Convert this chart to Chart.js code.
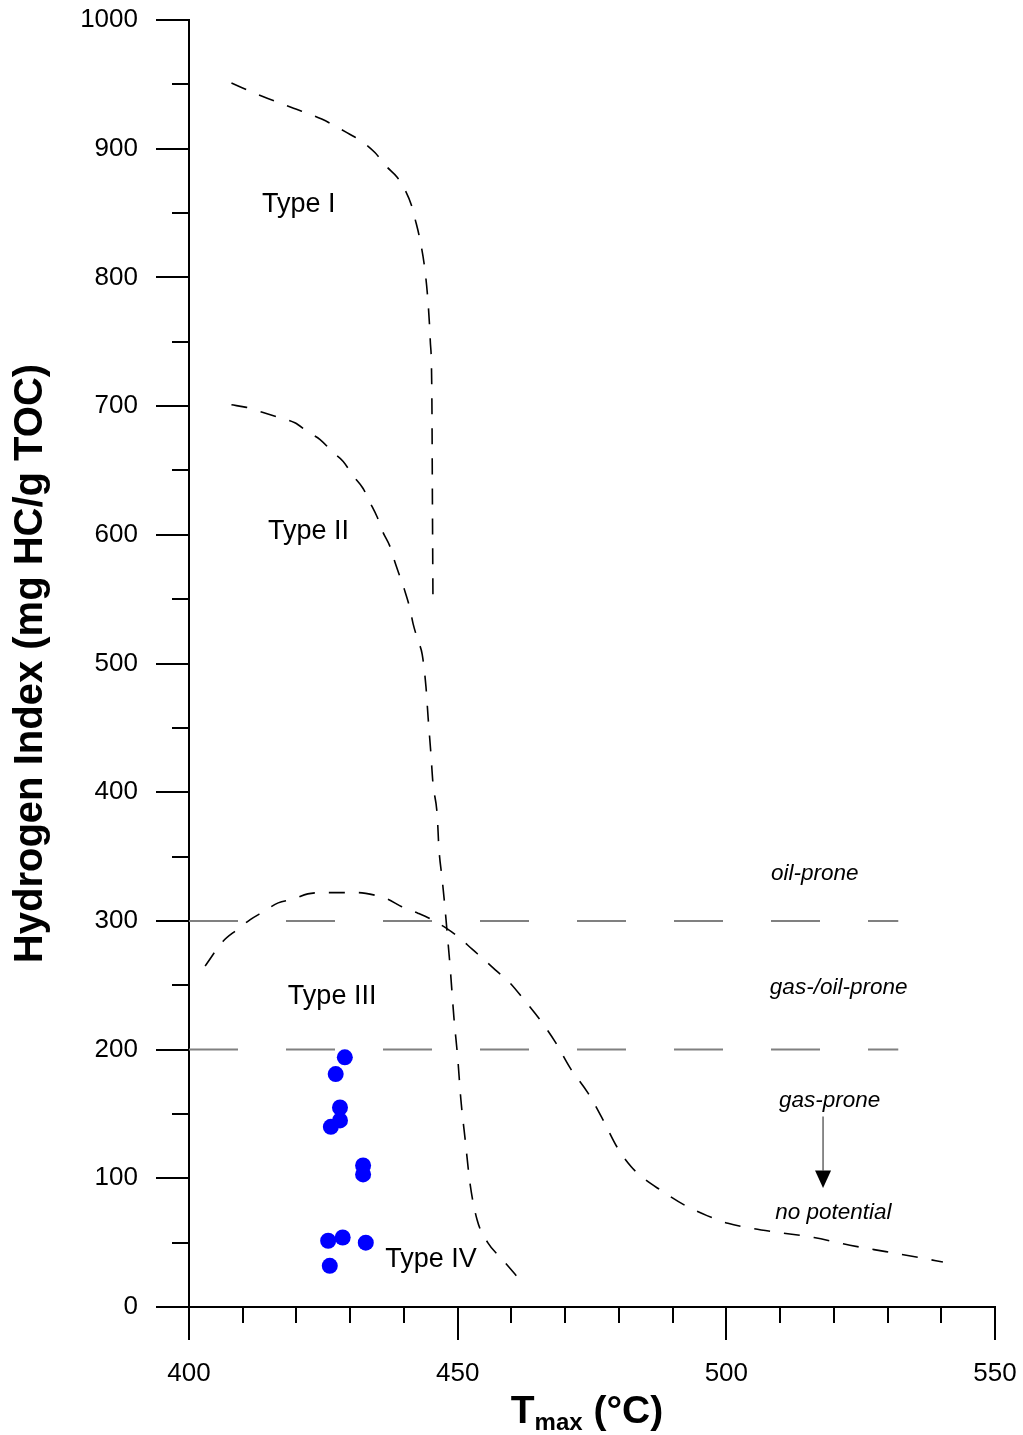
<!DOCTYPE html>
<html>
<head>
<meta charset="utf-8">
<script src="https://cdn.jsdelivr.net/npm/chart.js@4/dist/chart.umd.min.js"></script>
<style>
  html, body { margin: 0; padding: 0; background: #fff; }
  #wrap { width: 1023px; height: 1435px; position: relative; }
</style>
</head>
<body>
<div id="wrap"><canvas id="hiChart"></canvas></div>
<script>
// kerogen type boundaries (Tmax in °C, HI in mg HC/g TOC)
const typeI_T = [407.9, 413.5, 419.1, 424.7, 430.0, 432.4, 434.6, 436.8, 438.7, 440.2, 441.4, 442.1, 443.0, 443.9, 444.5, 444.9, 445.2, 445.3, 445.4];
const typeI_HI = [951, 941, 932, 923, 911, 905, 897, 886, 878, 868, 856, 845, 829, 806, 780, 751, 707, 627, 552];

const typeII_T = [407.9, 410.7, 413.8, 416.9, 419.7, 422.1, 424.4, 426.8, 428.7, 430.5, 432.4, 433.7, 435.0, 436.1, 437.4, 438.3, 439.3, 440.2, 441.1, 441.7, 442.6, 443.4, 444.1, 444.5, 445.0, 445.4, 446.2, 446.5, 447.1, 447.6, 448.0, 448.6, 449.3, 450.0, 450.6, 451.4, 452.3, 453.6, 455.6, 458.3, 461.8];
const typeII_HI = [701, 699, 695, 691, 687, 680, 674, 664, 657, 646, 636, 625, 614, 602, 591, 579, 567, 556, 543, 531, 518, 507, 482, 458, 431, 407, 382, 357, 333, 312, 293, 264, 225, 194, 161, 130, 96, 68, 50, 37, 20];

const typeIII_T = [403.0, 406.3, 408.9, 411.4, 413.8, 416.6, 419.4, 422.1, 424.9, 428.1, 431.3, 434.6, 436.9, 439.6, 442.6, 445.2, 448.0, 450.3, 452.7, 454.9, 457.0, 459.7, 462.3, 465.7, 468.3, 470.9, 474.3, 477.1, 479.7, 482.3, 484.3, 487.7, 492.3, 496.4, 500.3, 505.0, 509.6, 516.3, 523.0, 529.7, 536.4, 540.3];
const typeIII_HI = [265, 284, 293, 301, 307, 314, 317, 321, 322, 322, 322, 320, 317, 311, 306, 301, 294, 287, 278, 270, 262, 252, 239, 221, 205, 186, 166, 145, 124, 109, 101, 91, 79, 71, 65, 61, 58, 54, 48, 43, 38, 35];

// samples
const sampleTmax = [429.0, 427.3, 428.1, 428.1, 426.4, 432.4, 432.4, 425.9, 428.6, 432.9, 426.2];
const sampleHI = [194, 181, 155, 145, 140, 110, 103, 51.5, 54, 50, 32];

// oil-prone / gas-prone limits
const limitHI = [300, 200];
const limitT = [400, 532];

// axes
const xRange = [400, 550];
const yRange = [0, 1000];
const xMajor = [400, 450, 500, 550];
const yMajor = [0, 100, 200, 300, 400, 500, 600, 700, 800, 900, 1000];

const FONT = "'Liberation Sans', Arial, Helvetica, sans-serif";

function pts(xs, ys) {
  return xs.map((x, i) => ({ x: x, y: ys[i] }));
}

function curve(xs, ys) {
  return {
    data: pts(xs, ys),
    showLine: true,
    borderColor: '#000',
    borderWidth: 1.6,
    borderDash: [16, 14],
    pointRadius: 0,
    cubicInterpolationMode: 'monotone',
    fill: false
  };
}

const limitSets = limitHI.map(h => ({
  data: pts(limitT, [h, h]),
  showLine: true,
  borderColor: '#808080',
  borderWidth: 2,
  borderDash: [49, 48],
  pointRadius: 0,
  fill: false
}));

// text on the plot, placed in data units
const notes = [
  { text: 'Type I', x: 413.6, y: 856.5, italic: false },
  { text: 'Type II', x: 414.7, y: 602.5, italic: false },
  { text: 'Type III', x: 418.4, y: 241.5, italic: false },
  { text: 'Type IV', x: 436.5, y: 36.5, italic: false },
  { text: 'oil-prone', x: 508.3, y: 337, italic: true },
  { text: 'gas-/oil-prone', x: 508.1, y: 248, italic: true },
  { text: 'gas-prone', x: 509.8, y: 160, italic: true },
  { text: 'no potential', x: 509.1, y: 73, italic: true }
];

const overlay = {
  id: 'overlay',
  afterDatasetsDraw(chart) {
    const ctx = chart.ctx;
    const xs = chart.scales.x, ys = chart.scales.y;
    ctx.save();
    ctx.fillStyle = '#000';
    ctx.textAlign = 'left';
    ctx.textBaseline = 'middle';
    notes.forEach(n => {
      ctx.font = n.italic ? 'italic 22.5px ' + FONT : '27px ' + FONT;
      ctx.fillText(n.text, xs.getPixelForValue(n.x), ys.getPixelForValue(n.y));
    });
    // arrow gas-prone -> no potential
    const ax = xs.getPixelForValue(518);
    const y0 = ys.getPixelForValue(148), y1 = ys.getPixelForValue(106), y2 = ys.getPixelForValue(92.5);
    ctx.strokeStyle = '#666';
    ctx.lineWidth = 1.5;
    ctx.beginPath();
    ctx.moveTo(ax, y0);
    ctx.lineTo(ax, y1);
    ctx.stroke();
    ctx.beginPath();
    ctx.moveTo(ax - 8, y1);
    ctx.lineTo(ax + 8, y1);
    ctx.lineTo(ax, y2);
    ctx.closePath();
    ctx.fill();
    ctx.restore();
  },
  afterDraw(chart) {
    const ctx = chart.ctx;
    const xs = chart.scales.x, ys = chart.scales.y;
    const area = chart.chartArea;
    ctx.save();
    ctx.strokeStyle = '#000';
    ctx.lineWidth = 2;
    ctx.beginPath();
    for (let v = yRange[0]; v <= yRange[1]; v += 50) {
      const p = Math.round(ys.getPixelForValue(v));
      const len = v % 100 === 0 ? 33 : 17;
      ctx.moveTo(area.left, p);
      ctx.lineTo(area.left - len, p);
    }
    for (let v = xRange[0]; v <= xRange[1]; v += 10) {
      const p = Math.round(xs.getPixelForValue(v));
      const len = v % 50 === 0 ? 33 : 16;
      ctx.moveTo(p, area.bottom);
      ctx.lineTo(p, area.bottom + len);
    }
    ctx.stroke();

    // axis titles
    ctx.fillStyle = '#000';
    ctx.save();
    ctx.translate(31, (area.top + area.bottom) / 2);
    ctx.rotate(-Math.PI / 2);
    ctx.font = 'bold 40px ' + FONT;
    ctx.textAlign = 'center';
    ctx.textBaseline = 'middle';
    ctx.fillText('Hydrogen Index (mg HC/g TOC)', 0, 0);
    ctx.restore();

    ctx.textAlign = 'left';
    ctx.textBaseline = 'alphabetic';
    const big = 'bold 39px ' + FONT, small = 'bold 24px ' + FONT;
    ctx.font = big;
    const wT = ctx.measureText('T').width;
    const wRest = ctx.measureText(' (°C)').width;
    ctx.font = small;
    const wSub = ctx.measureText('max').width;
    let x = 587 - (wT + wSub + wRest) / 2;
    ctx.font = big;
    ctx.fillText('T', x, 1423);
    x += wT;
    ctx.font = small;
    ctx.fillText('max', x, 1430);
    x += wSub;
    ctx.font = big;
    ctx.fillText(' (°C)', x, 1423);
    ctx.restore();
  }
};

new Chart(document.getElementById('hiChart'), {
  type: 'scatter',
  data: {
    datasets: [
      {
        data: pts(sampleTmax, sampleHI),
        backgroundColor: '#0000ff',
        borderWidth: 0,
        pointRadius: 8,
        pointHoverRadius: 8,
        order: 0
      },
      curve(typeI_T, typeI_HI),
      curve(typeII_T, typeII_HI),
      curve(typeIII_T, typeIII_HI),
      ...limitSets
    ]
  },
  options: {
    responsive: true,
    maintainAspectRatio: false,
    animation: false,
    layout: { padding: { top: 20, right: 28, left: 0, bottom: 0 } },
    plugins: {
      legend: { display: false },
      tooltip: { enabled: false }
    },
    scales: {
      x: {
        type: 'linear',
        min: xRange[0],
        max: xRange[1],
        grid: { display: false, drawTicks: false },
        border: { display: true, color: '#000', width: 2 },
        ticks: {
          stepSize: 50,
          padding: 51,
          color: '#000',
          font: { family: FONT, size: 26 },
          maxRotation: 0,
          callback: v => xMajor.includes(v) ? String(v) : ''
        },
        afterFit: s => { s.height = 128; s.paddingLeft = 0; s.paddingRight = 0; }
      },
      y: {
        type: 'linear',
        min: yRange[0],
        max: yRange[1],
        grid: { display: false, drawTicks: false },
        border: { display: true, color: '#000', width: 2 },
        ticks: {
          stepSize: 100,
          padding: 51,
          color: '#000',
          font: { family: FONT, size: 26 },
          callback: v => yMajor.includes(v) ? String(v) : ''
        },
        afterFit: s => { s.width = 189; s.paddingTop = 0; s.paddingBottom = 0; }
      }
    }
  },
  plugins: [overlay]
});
</script>
</body>
</html>
